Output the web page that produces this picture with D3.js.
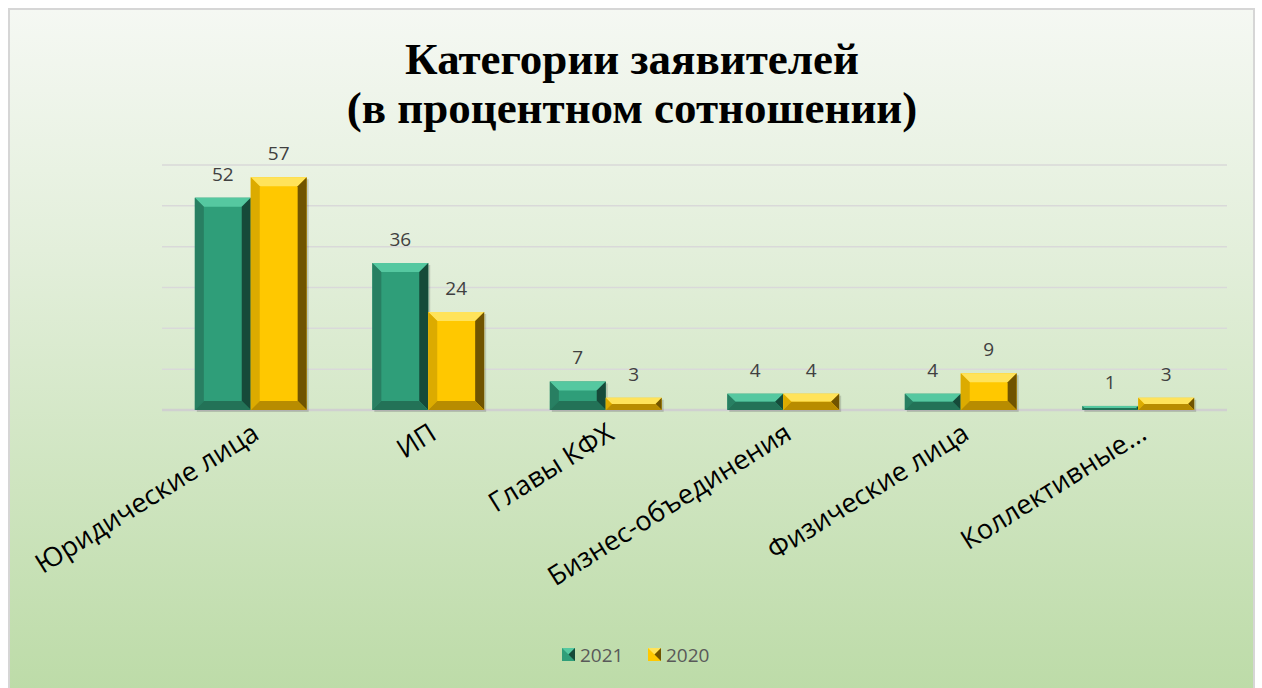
<!DOCTYPE html>
<html>
<head>
<meta charset="utf-8">
<script src="https://cdn.jsdelivr.net/npm/d3@7"></script>
<style>
  html, body { margin: 0; padding: 0; background: #ffffff; }
  svg { display: block; }
</style>
</head>
<body>
<div id="chart"></div>
<script>
(function () {
  // chart data
  const categories = ["Юридические лица", "ИП", "Главы КФХ", "Бизнес-объединения", "Физические лица", "Коллективные..."];
  const seriesNames = ["2021", "2020"];
  const values2021 = [52, 36, 7, 4, 4, 1];
  const values2020 = [57, 24, 3, 4, 9, 3];
  const gridTicks = [0, 10, 20, 30, 40, 50, 60];

  const W = 1262, H = 688;
  const plot = {left: 162, right: 1227, top: 165, bottom: 410};

  const palette = {
    "2021": {face: "#2f9e79", top: "#55c8a0", left: "#287f62", right: "#164a39", bottom: "#237257"},
    "2020": {face: "#ffc800", top: "#ffe35a", left: "#dcab00", right: "#705400", bottom: "#b88c00"}
  };

  const svg = d3.select("#chart").append("svg")
    .attr("width", W)
    .attr("height", H);

  const defs = svg.append("defs");
  const bg = defs.append("linearGradient")
    .attr("id", "bg")
    .attr("x1", 0).attr("y1", 0).attr("x2", 0).attr("y2", 1);
  bg.append("stop").attr("offset", "0%").attr("stop-color", "#f5f8f3");
  bg.append("stop").attr("offset", "35%").attr("stop-color", "#e3efdb");
  bg.append("stop").attr("offset", "100%").attr("stop-color", "#bcdba7");

  svg.append("rect")
    .attr("x", 9).attr("y", 9)
    .attr("width", W - 17).attr("height", H)
    .attr("fill", "url(#bg)")
    .attr("stroke", "#d6d6d6")
    .attr("stroke-width", 2);

  // title
  const title = svg.append("text")
    .attr("x", 632)
    .attr("text-anchor", "middle")
    .style("font-family", "'Liberation Serif', 'Times New Roman', serif")
    .style("font-weight", "bold")
    .style("font-size", "45px")
    .attr("fill", "#000");
  title.append("tspan").attr("x", 632).attr("y", 74).text("Категории заявителей");
  title.append("tspan").attr("x", 632).attr("y", 123).text("(в процентном сотношении)");

  const x0 = d3.scaleBand()
    .domain(categories)
    .range([plot.left, plot.right])
    .paddingInner(0.37)
    .paddingOuter(0.185);

  const x1 = d3.scaleBand()
    .domain(seriesNames)
    .range([0, x0.bandwidth()]);

  const y = d3.scaleLinear()
    .domain([0, 60])
    .range([plot.bottom, plot.top]);

  // gridlines
  svg.append("g")
    .selectAll("line")
    .data(gridTicks)
    .join("line")
    .attr("x1", plot.left)
    .attr("x2", plot.right)
    .attr("y1", d => y(d))
    .attr("y2", d => y(d))
    .attr("stroke", d => d === 0 ? "#d0d0d0" : "#d9d9d9")
    .attr("stroke-width", d => d === 0 ? 2.5 : 1.5);

  const rows = [];
  categories.forEach(function (c, i) {
    rows.push({cat: c, series: "2021", value: values2021[i]});
    rows.push({cat: c, series: "2020", value: values2020[i]});
  });

  // bevelled bars
  const bars = svg.append("g").selectAll("g.bar")
    .data(rows)
    .join("g")
    .attr("class", "bar");

  bars.each(function (d) {
    const g = d3.select(this);
    const c = palette[d.series];
    const bx = x0(d.cat) + x1(d.series);
    const bw = x1.bandwidth();
    const by = y(d.value);
    const bh = y(0) - by;
    const b = Math.min(9, bh / 2, bw / 2);
    const x2 = bx + bw, y2 = by + bh;

    g.append("rect")
      .attr("x", bx + 2).attr("y", by + 2)
      .attr("width", bw).attr("height", bh)
      .attr("fill", "rgba(0,0,0,0.15)");

    g.append("rect")
      .attr("x", bx).attr("y", by)
      .attr("width", bw).attr("height", bh)
      .attr("fill", c.face);

    const poly = function (pts, fill) {
      g.append("polygon")
        .attr("points", pts.map(p => p.join(",")).join(" "))
        .attr("fill", fill);
    };
    poly([[bx, by], [x2, by], [x2 - b, by + b], [bx + b, by + b]], c.top);
    poly([[bx, by], [bx + b, by + b], [bx + b, y2 - b], [bx, y2]], c.left);
    poly([[x2, by], [x2, y2], [x2 - b, y2 - b], [x2 - b, by + b]], c.right);
    poly([[bx, y2], [bx + b, y2 - b], [x2 - b, y2 - b], [x2, y2]], c.bottom);
  });

  // data labels
  svg.append("g").selectAll("text")
    .data(rows)
    .join("text")
    .attr("x", d => x0(d.cat) + x1(d.series) + x1.bandwidth() / 2)
    .attr("y", d => y(d.value) - 17)
    .attr("text-anchor", "middle")
    .style("font-family", "'Open Sans', 'Noto Sans', sans-serif")
    .style("font-size", "19px")
    .attr("fill", "#404040")
    .text(d => d.value);

  // category labels
  svg.append("g").selectAll("text")
    .data(categories)
    .join("text")
    .attr("transform", d => "translate(" + (x0(d) + x0.bandwidth() / 2 + 10) + "," + 438 + ") rotate(-32)")
    .attr("text-anchor", "end")
    .style("font-family", "'Open Sans', 'Noto Sans', sans-serif")
    .style("font-size", "27px")
    .attr("fill", "#000")
    .text(d => d);

  // legend
  const legend = svg.append("g")
    .attr("transform", "translate(562,655)");
  const items = legend.selectAll("g")
    .data(seriesNames)
    .join("g")
    .attr("transform", (d, i) => "translate(" + (i * 86) + ",0)");
  items.each(function (d) {
    const g = d3.select(this);
    const c = palette[d];
    g.append("rect").attr("x", 0).attr("y", -7).attr("width", 13).attr("height", 13).attr("fill", c.face);
    g.append("polygon").attr("points", "0,-7 13,-7 6.5,-0.5").attr("fill", c.top);
    g.append("polygon").attr("points", "13,-7 13,6 6.5,-0.5").attr("fill", c.right);
    g.append("text")
      .attr("x", 18)
      .attr("y", 7)
      .style("font-family", "'Open Sans', 'Noto Sans', sans-serif")
      .style("font-size", "19px")
      .attr("fill", "#595959")
      .text(d);
  });
})();
</script>
</body>
</html>
